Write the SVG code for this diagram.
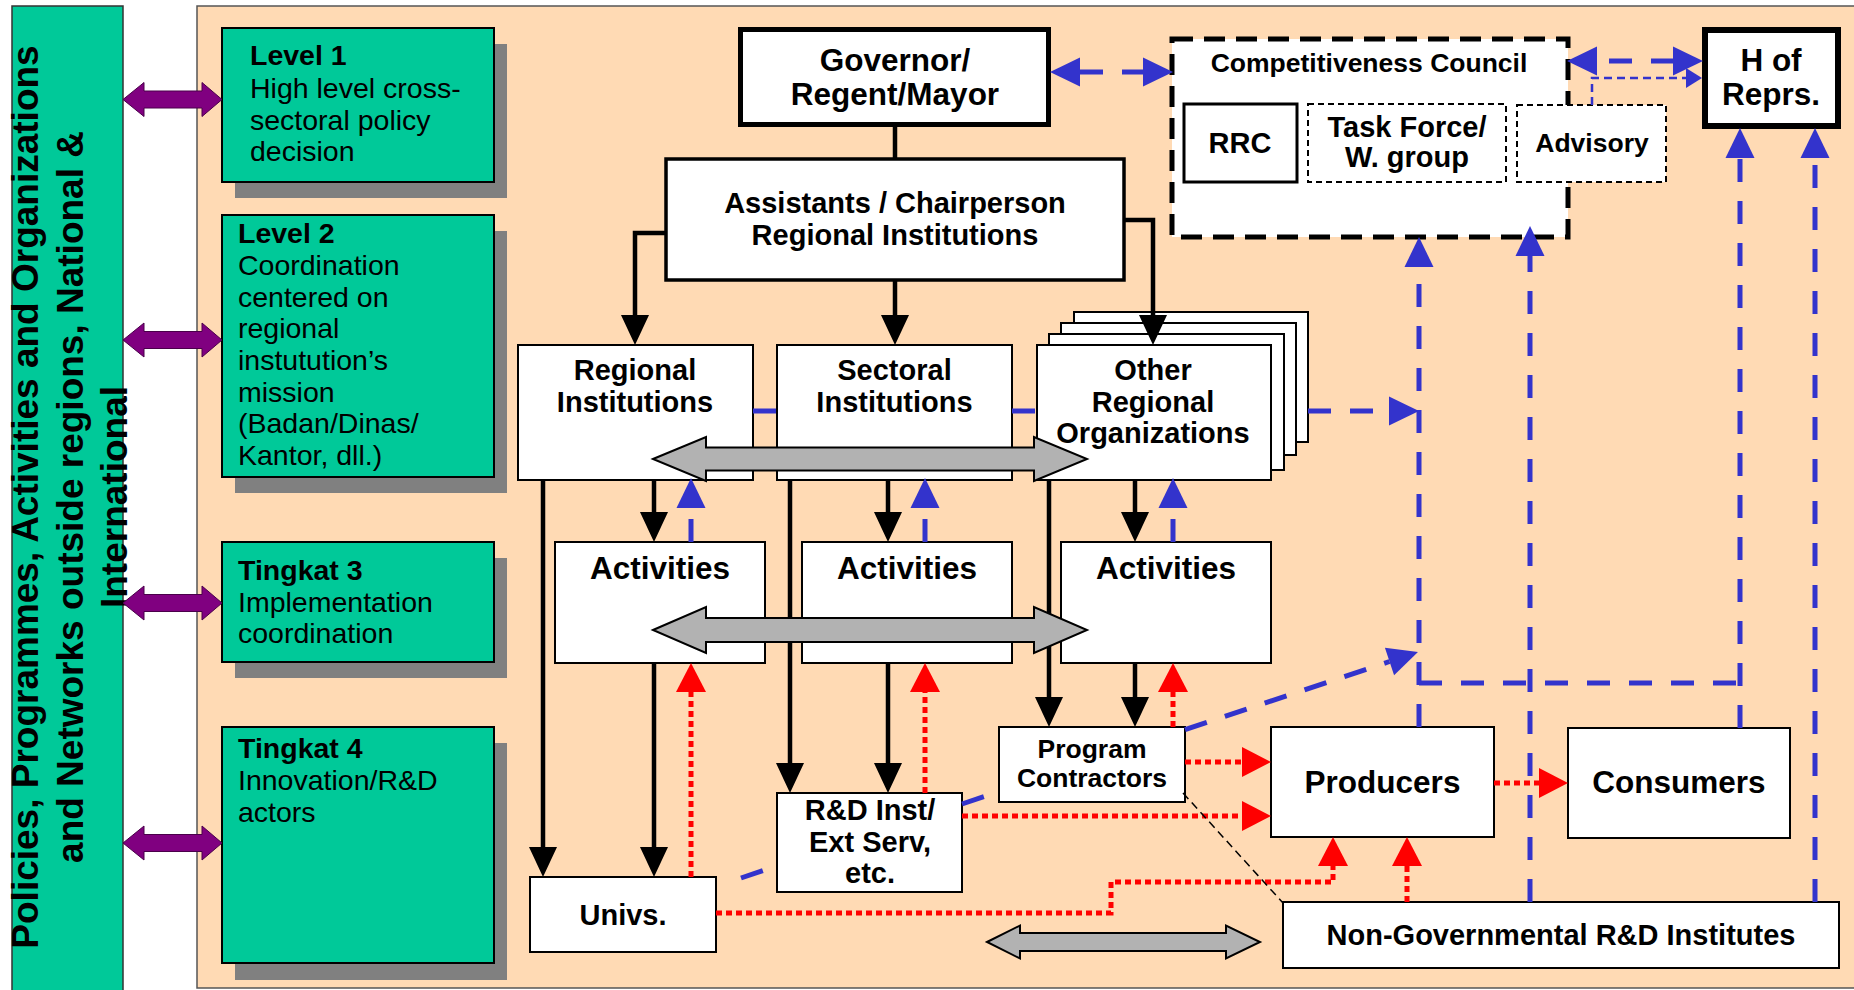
<svg xmlns="http://www.w3.org/2000/svg" width="1854" height="990" viewBox="0 0 1854 990">
<defs>
<style>
text{font-family:"Liberation Sans",Arial,sans-serif;fill:#000}
.b{font-weight:bold}
.c{text-anchor:middle}
.f26{font-size:26.5px}.f29{font-size:29px}.f31{font-size:31.5px}.f28{font-size:28.5px}
.box{fill:#fff;stroke:#000;stroke-width:2}
.lvl{fill:#00C999;stroke:#000;stroke-width:2}
.shadow{fill:#808080}
.blk{fill:none;stroke:#000;stroke-width:4.5}
.blu{fill:none;stroke:#3333CC;stroke-width:5;stroke-dasharray:23 19}
.red{fill:none;stroke:#FF0000;stroke-width:5;stroke-dasharray:6 4}
.gray{fill:#B2B2B2;stroke:#000;stroke-width:2}
.pur{fill:#800080;stroke:#4a004a;stroke-width:1}
</style>
<marker id="hb" markerUnits="userSpaceOnUse" markerWidth="30" markerHeight="28" refX="0" refY="14" orient="auto" overflow="visible"><path d="M0,0 L30,14 L0,28 z" fill="#000"/></marker>
<marker id="hu" markerUnits="userSpaceOnUse" markerWidth="30" markerHeight="29" refX="0" refY="14.5" orient="auto-start-reverse" overflow="visible"><path d="M0,0 L30,14.5 L0,29 z" fill="#3333CC"/></marker>
<marker id="hs" markerUnits="userSpaceOnUse" markerWidth="16" markerHeight="20" refX="0" refY="10" orient="auto" overflow="visible"><path d="M0,0 L16,10 L0,20 z" fill="#3333CC"/></marker>
<marker id="hr" markerUnits="userSpaceOnUse" markerWidth="29" markerHeight="30" refX="0" refY="15" orient="auto" overflow="visible"><path d="M0,0 L29,15 L0,30 z" fill="#FF0000"/></marker>
</defs>

<rect x="0" y="0" width="1854" height="990" fill="#fff"/>

<g id="outside-bar">
<rect x="12" y="6" width="111" height="990" fill="#00C999" stroke="#333" stroke-width="1.5"/>
<text class="b" font-size="37" text-anchor="middle" transform="translate(38,497) rotate(-90)"><tspan x="0" y="0">Policies, Programmes, Activities and Organizations</tspan><tspan x="0" dy="44.5">and Networks outside regions, National &amp;</tspan><tspan x="0" dy="44.5">International</tspan></text>
</g>

<g id="panel">
<rect x="197" y="6" width="1670" height="982" fill="#FFDAB4" stroke="#555" stroke-width="1.5"/>
</g>

<g id="level1">
<rect class="shadow" x="235" y="44" width="272" height="154"/>
<rect class="lvl" x="222" y="28" width="272" height="154"/>
<text class="f28" x="250"><tspan class="b" y="65">Level 1</tspan><tspan x="250" y="98">High level cross-</tspan><tspan x="250" y="130">sectoral policy</tspan><tspan x="250" y="161">decision</tspan></text>
</g>
<g id="level2">
<rect class="shadow" x="235" y="231" width="272" height="262"/>
<rect class="lvl" x="222" y="215" width="272" height="262"/>
<text class="f28" x="238"><tspan class="b" y="243">Level 2</tspan><tspan x="238" y="275">Coordination</tspan><tspan x="238" y="307">centered on</tspan><tspan x="238" y="338">regional</tspan><tspan x="238" y="370">instutution’s</tspan><tspan x="238" y="402">mission</tspan><tspan x="238" y="433">(Badan/Dinas/</tspan><tspan x="238" y="465">Kantor, dll.)</tspan></text>
</g>
<g id="level3">
<rect class="shadow" x="235" y="558" width="272" height="120"/>
<rect class="lvl" x="222" y="542" width="272" height="120"/>
<text class="f28" x="238"><tspan class="b" y="580">Tingkat 3</tspan><tspan x="238" y="612">Implementation</tspan><tspan x="238" y="643">coordination</tspan></text>
</g>
<g id="level4">
<rect class="shadow" x="235" y="743" width="272" height="237"/>
<rect class="lvl" x="222" y="727" width="272" height="236"/>
<text class="f28" x="238"><tspan class="b" y="758">Tingkat 4</tspan><tspan x="238" y="790">Innovation/R&amp;D</tspan><tspan x="238" y="822">actors</tspan></text>
</g>

<g id="governor">
<rect x="740.5" y="29.5" width="308" height="95" fill="#fff" stroke="#000" stroke-width="5"/>
<text class="b c f31" x="895"><tspan x="895" y="71">Governor/</tspan><tspan x="895" y="105">Regent/Mayor</tspan></text>
</g>
<g id="assistants">
<rect x="666" y="159" width="458" height="121" fill="#fff" stroke="#000" stroke-width="3.5"/>
<text class="b c f29"><tspan x="895" y="213">Assistants / Chairperson</tspan><tspan x="895" y="245">Regional Institutions</tspan></text>
</g>
<g id="council">
<rect x="1172" y="39" width="396" height="198" fill="#fff" stroke="#000" stroke-width="5" stroke-dasharray="21 11"/>
<text class="b c f26" x="1369" y="72">Competitiveness Council</text>
</g>
<g id="rrc">
<rect x="1184" y="104" width="113" height="78" fill="#fff" stroke="#000" stroke-width="3"/>
<text class="b c f29" x="1240" y="153">RRC</text>
</g>
<g id="taskforce">
<rect x="1308" y="104" width="198" height="78" fill="#fff" stroke="#000" stroke-width="2" stroke-dasharray="6 4"/>
<text class="b c f29"><tspan x="1407" y="137">Task Force/</tspan><tspan x="1407" y="167">W. group</tspan></text>
</g>
<g id="advisory">
<rect x="1517" y="105" width="149" height="77" fill="#fff" stroke="#000" stroke-width="2" stroke-dasharray="6 4"/>
<text class="b c f26" x="1592" y="152">Advisory</text>
</g>
<g id="hofrepr">
<rect x="1705" y="30" width="133" height="96" fill="#fff" stroke="#000" stroke-width="6"/>
<text class="b c f31"><tspan x="1771" y="71">H of</tspan><tspan x="1771" y="105">Reprs.</tspan></text>
</g>

<g id="regional">
<rect class="box" x="518" y="345" width="235" height="135"/>
<text class="b c f29"><tspan x="635" y="380">Regional</tspan><tspan x="635" y="412">Institutions</tspan></text>
</g>
<g id="sectoral">
<rect class="box" x="777" y="345" width="235" height="135"/>
<text class="b c f29"><tspan x="894.5" y="380">Sectoral</tspan><tspan x="894.5" y="412">Institutions</tspan></text>
</g>
<g id="other">
<rect class="box" x="1074" y="312" width="234" height="130"/>
<rect class="box" x="1061" y="323" width="235" height="132"/>
<rect class="box" x="1049" y="334" width="235" height="136"/>
<rect class="box" x="1037" y="345" width="234" height="135"/>
<text class="b c f29"><tspan x="1153" y="380">Other</tspan><tspan x="1153" y="412">Regional</tspan><tspan x="1153" y="443">Organizations</tspan></text>
</g>

<g id="activities1">
<rect class="box" x="555" y="542" width="210" height="121"/>
<text class="b c f31" x="660" y="579">Activities</text>
</g>
<g id="activities2">
<rect class="box" x="802" y="542" width="210" height="121"/>
<text class="b c f31" x="907" y="579">Activities</text>
</g>
<g id="activities3">
<rect class="box" x="1061" y="542" width="210" height="121"/>
<text class="b c f31" x="1166" y="579">Activities</text>
</g>

<g id="contractors">
<rect class="box" x="999" y="727" width="186" height="75"/>
<text class="b c f26"><tspan x="1092" y="758">Program</tspan><tspan x="1092" y="787">Contractors</tspan></text>
</g>
<g id="rnd">
<rect class="box" x="777" y="793" width="185" height="99"/>
<text class="b c f29"><tspan x="870" y="820">R&amp;D Inst/</tspan><tspan x="870" y="852">Ext Serv,</tspan><tspan x="870" y="883">etc.</tspan></text>
</g>
<g id="univs">
<rect class="box" x="530" y="877" width="186" height="75"/>
<text class="b c f29" x="623" y="925">Univs.</text>
</g>
<g id="producers">
<rect class="box" x="1271" y="727" width="223" height="110"/>
<text class="b c f31" x="1382.5" y="793">Producers</text>
</g>
<g id="consumers">
<rect class="box" x="1568" y="728" width="222" height="110"/>
<text class="b c f31" x="1679" y="793">Consumers</text>
</g>
<g id="nongov">
<rect class="box" x="1283" y="902" width="556" height="66"/>
<text class="b c f29" x="1561" y="945">Non-Governmental R&amp;D Institutes</text>
</g>

<g id="connectors">
<line class="blk" x1="895" y1="127" x2="895" y2="159"/>
<polyline class="blk" points="666,233 635,233 635,315" marker-end="url(#hb)"/>
<line class="blk" x1="895" y1="280" x2="895" y2="315" marker-end="url(#hb)"/>
<polyline class="blk" points="1124,220 1153,220 1153,315" marker-end="url(#hb)"/>
<line class="blk" x1="654" y1="480" x2="654" y2="512" marker-end="url(#hb)"/>
<line class="blk" x1="888" y1="480" x2="888" y2="512" marker-end="url(#hb)"/>
<line class="blk" x1="1135" y1="480" x2="1135" y2="512" marker-end="url(#hb)"/>
<line class="blk" x1="543" y1="480" x2="543" y2="847" marker-end="url(#hb)"/>
<line class="blk" x1="654" y1="663" x2="654" y2="847" marker-end="url(#hb)"/>
<line class="blk" x1="790" y1="480" x2="790" y2="763" marker-end="url(#hb)"/>
<line class="blk" x1="888" y1="663" x2="888" y2="763" marker-end="url(#hb)"/>
<line class="blk" x1="1049" y1="480" x2="1049" y2="697" marker-end="url(#hb)"/>
<line class="blk" x1="1135" y1="663" x2="1135" y2="697" marker-end="url(#hb)"/>

<line class="blu" x1="691" y1="542" x2="691" y2="508" marker-end="url(#hu)"/>
<line class="blu" x1="925" y1="542" x2="925" y2="508" marker-end="url(#hu)"/>
<line class="blu" x1="1173" y1="542" x2="1173" y2="508" marker-end="url(#hu)"/>
<line class="blu" x1="1080" y1="72" x2="1143" y2="72" stroke-dasharray="24 17" marker-start="url(#hu)" marker-end="url(#hu)"/>
<line class="blu" x1="1597" y1="61" x2="1673" y2="61" stroke-dasharray="23 20" stroke-dashoffset="30" marker-start="url(#hu)" marker-end="url(#hu)"/>
<polyline points="1592,105 1592,78 1686,78" fill="none" stroke="#3333CC" stroke-width="2.5" stroke-dasharray="8 5" marker-end="url(#hs)"/>
<line class="blu" x1="753" y1="411" x2="777" y2="411"/>
<line class="blu" x1="1012" y1="411" x2="1037" y2="411"/>
<line class="blu" x1="1308" y1="411" x2="1389" y2="411" stroke-dasharray="15 18 29 12" marker-end="url(#hu)"/>
<line class="blu" x1="1419" y1="727" x2="1419" y2="267" marker-end="url(#hu)"/>
<line class="blu" x1="1419" y1="683" x2="1740" y2="683"/>
<line class="blu" x1="1740" y1="728" x2="1740" y2="158" marker-end="url(#hu)"/>
<line class="blu" x1="1530" y1="902" x2="1530" y2="256" marker-end="url(#hu)"/>
<line class="blu" x1="1815" y1="902" x2="1815" y2="158" marker-end="url(#hu)"/>
<line class="blu" x1="741" y1="878" x2="777" y2="866"/>
<line class="blu" x1="962" y1="804" x2="999" y2="791.7"/>
<line class="blu" x1="1185" y1="729.7" x2="1389.5" y2="661.5" marker-end="url(#hu)"/>

<line class="red" x1="691" y1="877" x2="691" y2="692" marker-end="url(#hr)"/>
<line class="red" x1="925" y1="793" x2="925" y2="692" marker-end="url(#hr)"/>
<line class="red" x1="1173" y1="727" x2="1173" y2="692" marker-end="url(#hr)"/>
<line class="red" x1="1185" y1="762" x2="1242" y2="762" marker-end="url(#hr)"/>
<line class="red" x1="962" y1="816" x2="1242" y2="816" marker-end="url(#hr)"/>
<line class="red" x1="1494" y1="783" x2="1539" y2="783" marker-end="url(#hr)"/>
<polyline class="red" points="716,913 1111,913 1111,882 1333,882 1333,866" marker-end="url(#hr)"/>
<line class="red" x1="1407" y1="902" x2="1407" y2="866" marker-end="url(#hr)"/>

<line x1="1183" y1="793" x2="1283" y2="903" stroke="#000" stroke-width="1.5" stroke-dasharray="8 5"/>

<polygon class="gray" points="653,459 706,437 706,447.5 1034,447.5 1034,437 1087,459 1034,481 1034,470.5 706,470.5 706,481"/>
<polygon class="gray" points="653,630 706,607 706,618 1034,618 1034,607 1087,630 1034,653 1034,642 706,642 706,653"/>
<polygon class="gray" points="987,942 1020,925.5 1020,933 1226,933 1226,925.5 1260,942 1226,958.5 1226,951 1020,951 1020,958.5"/>

<polygon class="pur" points="123,99.5 144,82.5 144,91 202,91 202,82.5 222,99.5 202,116.5 202,108 144,108 144,116.5"/>
<polygon class="pur" points="123,340 144,323 144,331.5 202,331.5 202,323 222,340 202,357 202,348.5 144,348.5 144,357"/>
<polygon class="pur" points="123,603 144,586 144,594.5 202,594.5 202,586 222,603 202,620 202,611.5 144,611.5 144,620"/>
<polygon class="pur" points="123,843 144,826 144,834.5 202,834.5 202,826 222,843 202,860 202,851.5 144,851.5 144,860"/>
</g>
</svg>
